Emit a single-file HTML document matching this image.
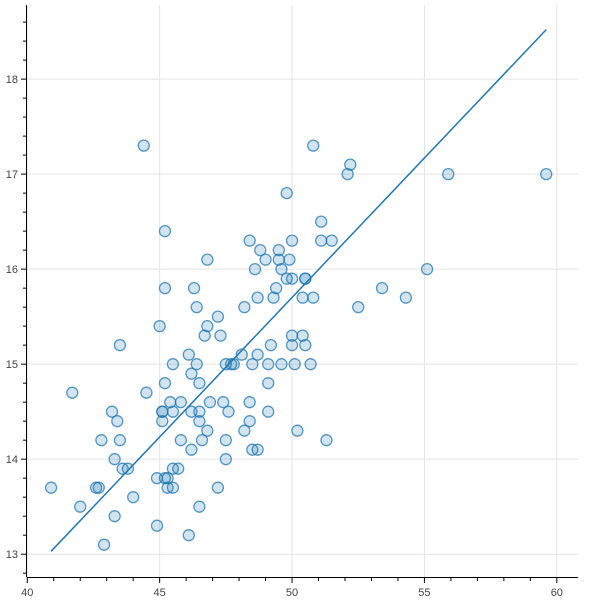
<!DOCTYPE html>
<html><head><meta charset="utf-8"><style>
html,body{margin:0;padding:0;background:#fff;}
svg text{font-family:"Liberation Sans",sans-serif;font-size:11px;fill:#444;}
</style></head><body>
<svg id="chart" width="600" height="600" xmlns="http://www.w3.org/2000/svg">
<g id="grid"></g>
<g id="series"></g>
<g id="axes"></g>
</svg>
<script>
const xs = [40.9,41.7,42.0,42.6,42.7,42.8,42.9,43.2,43.3,43.3,43.4,43.5,43.5,43.6,43.8,44.0,44.4,44.5,44.9,44.9,45.0,45.1,45.1,45.1,45.2,45.2,45.2,45.2,45.3,45.3,45.4,45.5,45.5,45.5,45.5,45.7,45.8,45.8,46.1,46.1,46.2,46.2,46.2,46.3,46.4,46.4,46.5,46.5,46.5,46.5,46.6,46.7,46.8,46.8,46.8,46.9,47.2,47.2,47.3,47.4,47.5,47.5,47.5,47.6,47.7,47.8,48.1,48.2,48.2,48.4,48.4,48.4,48.5,48.5,48.6,48.7,48.7,48.7,48.8,49.0,49.1,49.1,49.1,49.2,49.3,49.4,49.5,49.5,49.6,49.6,49.8,49.8,49.9,50.0,50.0,50.0,50.0,50.1,50.2,50.4,50.4,50.5,50.5,50.5,50.7,50.8,50.8,51.1,51.1,51.3,51.5,52.1,52.2,52.5,53.4,54.3,55.1,55.9,59.6];
const ys = [13.7,14.7,13.5,13.7,13.7,14.2,13.1,14.5,14.0,13.4,14.4,15.2,14.2,13.9,13.9,13.6,17.3,14.7,13.8,13.3,15.4,14.5,14.5,14.4,14.8,13.8,15.8,16.4,13.8,13.7,14.6,15.0,14.5,13.9,13.7,13.9,14.6,14.2,15.1,13.2,14.9,14.5,14.1,15.8,15.6,15.0,14.8,14.5,14.4,13.5,14.2,15.3,16.1,15.4,14.3,14.6,15.5,13.7,15.3,14.6,15.0,14.2,14.0,14.5,15.0,15.0,15.1,15.6,14.3,16.3,14.6,14.4,15.0,14.1,16.0,15.7,15.1,14.1,16.2,16.1,15.0,14.8,14.5,15.2,15.7,15.8,16.2,16.1,16.0,15.0,16.8,15.9,16.1,16.3,15.9,15.3,15.2,15.0,14.3,15.7,15.3,15.9,15.9,15.2,15.0,17.3,15.7,16.5,16.3,14.2,16.3,17.0,17.1,15.6,15.8,15.7,16.0,17.0,17.0];
const xTicks = [40,45,50,55,60];
const yTicks = [13,14,15,16,17,18];
const fitSlope = 0.2936;
const fitIntercept = 1.022;
const fitRange = [40.9,59.6];

const L=27,R=578,T=5,B=577;
const xMin=39.99,xMax=60.8,yMin=12.76,yMax=18.78;
const sx=v=>L+(v-xMin)/(xMax-xMin)*(R-L);
const sy=v=>B-(v-yMin)/(yMax-yMin)*(B-T);
const NS="http://www.w3.org/2000/svg";
function mk(tag,parent,attrs){const e=document.createElementNS(NS,tag);for(const k in attrs)e.setAttribute(k,attrs[k]);parent.appendChild(e);return e;}
const grid=document.getElementById('grid'),series=document.getElementById('series'),axes=document.getElementById('axes');
xTicks.forEach(t=>{const g=mk('line',grid,{x1:sx(t),x2:sx(t),y1:T,y2:B,stroke:'#e5e5e5'});

});
yTicks.forEach(t=>{const g=mk('line',grid,{x1:L,x2:R,y1:sy(t),y2:sy(t),stroke:'#e5e5e5'});

});
for(let i=0;i<xs.length;i++){
 const c=mk('circle',series,{cx:sx(xs[i]),cy:sy(ys[i]),r:5.5,fill:'rgba(31,119,180,0.2)',stroke:'rgba(31,119,180,0.75)','stroke-width':1.3});
 
 
}
const fl=mk('line',series,{x1:sx(fitRange[0]),y1:sy(fitIntercept+fitSlope*fitRange[0]),x2:sx(fitRange[1]),y2:sy(fitIntercept+fitSlope*fitRange[1]),stroke:'#1f77b4','stroke-width':1.5});


// axes
const xa=mk('line',axes,{x1:L,x2:R,y1:B+0.5,y2:B+0.5,stroke:'#000'});


const ya=mk('line',axes,{x1:L-0.5,x2:L-0.5,y1:T,y2:B,stroke:'#000'});


for(let v=40;v<=60;v++){const maj=v%5===0;mk('line',axes,{x1:sx(v),x2:sx(v),y1:B,y2:B+(maj?6:4),stroke:'#000'});}
for(let k=64;k<=93;k++){const v=k/5;const maj=k%5===0;mk('line',axes,{x1:L,x2:L-(maj?6:4),y1:sy(v),y2:sy(v),stroke:'#000'});}
xTicks.forEach(t=>{const tx=mk('text',axes,{x:sx(t),y:B+19,'text-anchor':'middle'});tx.textContent=t;

});
yTicks.forEach(t=>{const tx=mk('text',axes,{x:L-9,y:sy(t)+4,'text-anchor':'end'});tx.textContent=t;

});
</script>
</body></html>
